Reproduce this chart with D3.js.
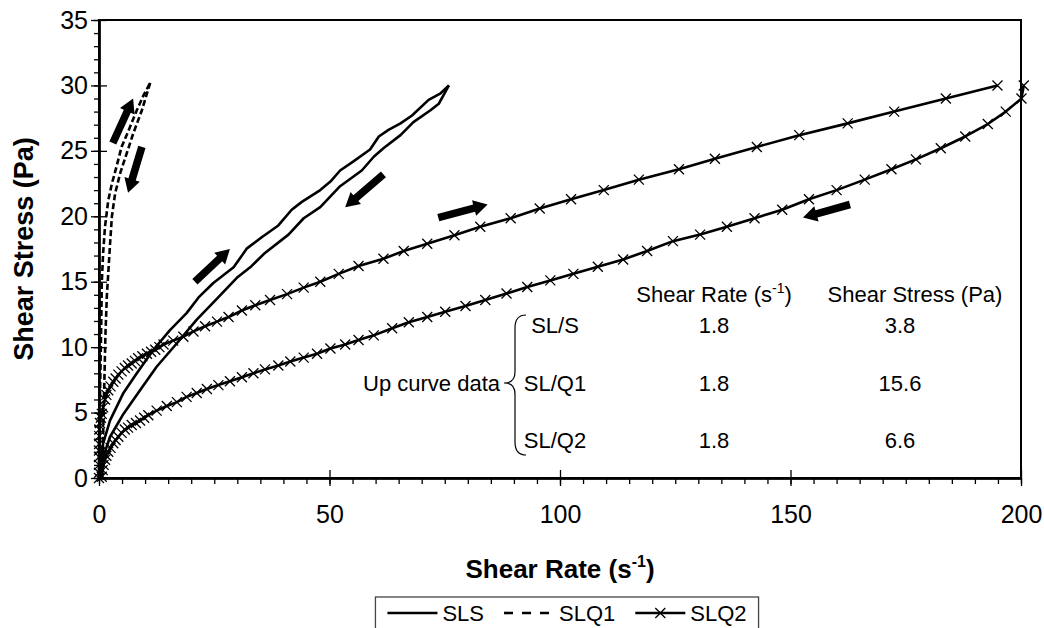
<!DOCTYPE html>
<html>
<head>
<meta charset="utf-8">
<script src="https://cdn.jsdelivr.net/npm/d3@7"></script>
<style>
body { margin: 0; background: #fff; }
svg { display: block; font-family: Arial, "Liberation Sans", sans-serif; }
</style>
</head>
<body>
<svg id="chart" width="1044" height="628"></svg>
<script>
// shear rate (1/s), shear stress (Pa)
var slsUp = [[0,0],[0.2,0.9],[0.9,2.65],[2.4,4.4],[5.3,6.5],[8.2,8.0],[11.8,9.8],[15.4,11.3],[19.0,12.6],[21.6,13.8],[24.8,14.9],[29.2,16.1],[32.1,17.55],[35.3,18.4],[38.9,19.3],[41.8,20.5],[44.0,21.1],[48.0,22.0],[50.2,22.65],[52.3,23.5],[55.2,24.2],[58.8,25.1],[60.7,26.1],[62.8,26.6],[65.4,27.1],[67.9,27.7],[71.5,28.9],[74.1,29.4],[75.9,30.0]];
var slsDown = [[75.9,30.0],[74.8,29.3],[73.7,28.6],[71.9,28.1],[68.2,27.2],[65.4,26.2],[61.7,25.2],[59.6,24.55],[57.0,23.5],[52.3,22.3],[48.0,20.7],[44.4,19.85],[41.1,18.6],[36.0,17.2],[32.8,16.1],[29.9,15.3],[25.6,13.7],[21.2,12.1],[16.9,10.3],[12.5,8.5],[8.9,6.7],[5.3,4.9],[2.4,3.15],[0.9,1.6],[0.2,0.35]];
var slq1Up = [[0,0],[0.1,3],[0.2,6],[0.35,9],[0.5,12],[0.6,14.9],[0.9,17.2],[1.3,19.2],[2.0,21.2],[2.8,22.5],[3.8,23.8],[4.9,25.3],[6.7,26.8],[8.2,28.1],[9.6,29.2],[11.1,30.2]];
var slq1Down = [[11.1,30.2],[9.3,28.1],[7.4,26.3],[6.0,24.8],[4.6,23.3],[3.5,21.75],[2.8,20.0],[2.4,17.9],[2.0,15.6],[1.7,13.9],[1.4,11],[1.2,8],[1.0,5],[0.8,2],[0.6,0]];
var slq2Up = [[0,0],[0,0.4],[0,1.0],[0,1.6],[0,2.1],[0.02,2.6],[0.05,3.2],[0.07,3.7],[0.2,4.2],[0.4,4.6],[0.6,4.9],[0.9,5.4],[1.3,6.0],[1.6,6.35],[2.0,6.7],[2.5,7.0],[3.1,7.35],[3.6,7.6],[4.2,7.9],[4.9,8.15],[5.6,8.4],[6.3,8.6],[7.1,8.75],[7.8,8.95],[8.5,9.15],[9.4,9.3],[10.4,9.5],[11.3,9.65],[12.2,9.8],[13.1,10.0],[14.0,10.2],[16.1,10.5],[18.3,10.8],[20.5,11.2],[23.0,11.6],[25.6,11.95],[28.1,12.3],[31.0,12.8],[33.9,13.2],[37.1,13.6],[40.8,14.05],[44.4,14.55],[48.0,15.0],[52.0,15.6],[56.3,16.2],[61.7,16.75],[66.1,17.35],[71.2,17.9],[77.1,18.55],[82.7,19.2],[89.3,19.85],[95.6,20.6],[102.4,21.3],[109.5,22.0],[117.1,22.8],[125.8,23.6],[133.6,24.4],[142.7,25.3],[151.9,26.2],[162.4,27.1],[172.5,28.0],[183.7,29.0],[194.9,30.0]];
var slq2Down = [[200.6,30.0],[200.1,29.0],[196.7,28.0],[192.8,27.05],[187.9,26.1],[182.6,25.2],[177.2,24.35],[171.9,23.6],[166.1,22.8],[160.0,22.0],[154.0,21.3],[148.2,20.5],[142.2,19.85],[136.2,19.2],[130.4,18.6],[124.5,18.1],[118.9,17.35],[113.7,16.7],[108.2,16.15],[102.9,15.6],[97.9,15.1],[92.9,14.6],[88.4,14.1],[83.8,13.6],[79.5,13.15],[75.1,12.7],[71.2,12.3],[67.2,11.9],[63.6,11.45],[59.6,10.9],[56.3,10.55],[53.4,10.2],[50.2,9.9],[47.3,9.5],[44.4,9.2],[41.5,8.9],[38.9,8.6],[36.0,8.3],[33.5,8.0],[31.0,7.7],[28.4,7.4],[25.9,7.1],[23.4,6.8],[21.2,6.5],[19.0,6.2],[16.9,5.8],[14.7,5.5],[12.5,5.15],[10.7,4.8],[9.8,4.6],[8.9,4.4],[8.0,4.2],[7.1,4.05],[6.3,3.85],[5.6,3.7],[4.9,3.45],[4.2,3.15],[3.6,2.9],[3.1,2.65],[2.5,2.3],[2.0,2.0],[1.6,1.7],[1.3,1.4],[1.0,1.0],[0.8,0.6],[0.6,0.1]];

// direction arrows [x1, y1, x2, y2] in data units
var arrows = [[3.0,25.6,7.4,29.0],[9.3,25.3,6.3,21.8],[20.8,15.0,28.4,17.5],[61.7,23.2,53.4,20.7],[73.6,19.9,84.3,20.9],[162.9,20.9,152.7,19.9]];

var xMajor = [0, 50, 100, 150, 200];
var yMajor = [0, 5, 10, 15, 20, 25, 30, 35];

var tableNames = ["SL/S", "SL/Q1", "SL/Q2"];
var tableRates = ["1.8", "1.8", "1.8"];
var tableStress = ["3.8", "15.6", "6.6"];

var legendNames = ["SLS", "SLQ1", "SLQ2"];

var svg = d3.select("#chart"),
	margin = {top: 20, right: 23, bottom: 150, left: 99},
	width = 1044 - margin.left - margin.right,
	height = 628 - margin.top - margin.bottom;

var x = d3.scaleLinear().domain([0, 200]).range([0, width]);
var y = d3.scaleLinear().domain([0, 35]).range([height, 0]);

var g = svg.append("g")
	.attr("transform", "translate(" + margin.left + "," + margin.top + ")");

// frame
g.append("rect")
	.attr("width", width)
	.attr("height", height)
	.attr("fill", "none")
	.attr("stroke", "#000")
	.attr("stroke-width", 2);

// minor ticks
g.append("g")
	.attr("class", "axis")
	.attr("transform", "translate(0," + height + ")")
	.call(d3.axisBottom(x).tickValues(d3.range(0, 201, 5)).tickSize(6).tickSizeOuter(0).tickFormat(""));
g.append("g")
	.attr("class", "axis")
	.call(d3.axisLeft(y).tickValues(d3.range(0, 36, 1)).tickSize(5).tickSizeOuter(0).tickFormat(""));

// major ticks crossing the axes
g.append("g")
	.attr("class", "axis major")
	.attr("transform", "translate(0," + height + ")")
	.call(d3.axisBottom(x).tickValues(xMajor).tickSize(8).tickSizeOuter(0).tickPadding(19));
g.append("g")
	.attr("class", "axis")
	.attr("transform", "translate(0," + height + ")")
	.call(d3.axisTop(x).tickValues(xMajor).tickSize(8).tickSizeOuter(0).tickFormat(""));
g.append("g")
	.attr("class", "axis major")
	.call(d3.axisLeft(y).tickValues(yMajor).tickSize(8).tickSizeOuter(0).tickPadding(3));
g.append("g")
	.attr("class", "axis")
	.call(d3.axisRight(y).tickValues(yMajor).tickSize(8).tickSizeOuter(0).tickFormat(""));

svg.selectAll(".axis .domain").attr("stroke-width", 2);
svg.selectAll(".axis .tick line").attr("stroke-width", 1.3);
svg.selectAll(".axis.major .tick text")
	.style("font-size", "25px")
	.style("font-family", "Arial, 'Liberation Sans', sans-serif")
	.attr("fill", "#000");

// axis titles
var xt = svg.append("text")
	.attr("x", margin.left + width / 2)
	.attr("y", 578)
	.attr("text-anchor", "middle")
	.style("font-size", "26px")
	.style("font-weight", "bold");
xt.append("tspan").text("Shear Rate (s");
xt.append("tspan").attr("dy", -11).style("font-size", "16px").text("-1");
xt.append("tspan").attr("dy", 11).text(")");

svg.append("text")
	.attr("transform", "translate(33," + (margin.top + height / 2) + ") rotate(-90)")
	.attr("text-anchor", "middle")
	.style("font-size", "27px")
	.style("font-weight", "bold")
	.text("Shear Stress (Pa)");

// curves
var line = d3.line()
	.x(function (d) { return x(d[0]); })
	.y(function (d) { return y(d[1]); });

[slsUp, slsDown].forEach(function (s) {
	g.append("path").attr("d", line(s)).attr("fill", "none")
		.attr("stroke", "#000").attr("stroke-width", 2.6).attr("stroke-linejoin", "round");
});
[slq1Up, slq1Down].forEach(function (s) {
	g.append("path").attr("d", line(s)).attr("fill", "none")
		.attr("stroke", "#000").attr("stroke-width", 2.6).attr("stroke-dasharray", "6,3");
});
[slq2Up, slq2Down].forEach(function (s) {
	g.append("path").attr("d", line(s)).attr("fill", "none")
		.attr("stroke", "#000").attr("stroke-width", 2.6).attr("stroke-linejoin", "round");
	g.selectAll(null)
		.data(s)
		.enter()
		.append("path")
		.attr("d", "M-5,-5L5,5M-5,5L5,-5")
		.attr("transform", function (d) { return "translate(" + x(d[0]) + "," + y(d[1]) + ")"; })
		.attr("stroke", "#000")
		.attr("stroke-width", 1.3);
});

// block arrows
function arrowPoints(a) {
	var x1 = x(a[0]), y1 = y(a[1]), x2 = x(a[2]), y2 = y(a[3]);
	var dx = x2 - x1, dy = y2 - y1, L = Math.sqrt(dx * dx + dy * dy);
	var ux = dx / L, uy = dy / L, nx = -uy, ny = ux;
	var hl = 14, sw = 3.8, hw = 8;
	var bx = x2 - ux * hl, by = y2 - uy * hl;
	return [
		[x1 + nx * sw, y1 + ny * sw], [bx + nx * sw, by + ny * sw], [bx + nx * hw, by + ny * hw],
		[x2, y2],
		[bx - nx * hw, by - ny * hw], [bx - nx * sw, by - ny * sw], [x1 - nx * sw, y1 - ny * sw]
	].map(function (p) { return p.join(","); }).join(" ");
}
g.selectAll(".arrow")
	.data(arrows)
	.enter()
	.append("polygon")
	.attr("class", "arrow")
	.attr("points", arrowPoints)
	.attr("fill", "#000");

// up-curve data table
var tb = svg.append("g").style("font-size", "22px");
var rateX = 714, stressX = 900, nameX = 555;
var hr = tb.append("text").attr("x", rateX).attr("y", 302).attr("text-anchor", "middle");
hr.append("tspan").text("Shear Rate (s");
hr.append("tspan").attr("dy", -9).style("font-size", "14px").text("-1");
hr.append("tspan").attr("dy", 9).text(")");
tb.append("text").attr("x", 915).attr("y", 302).attr("text-anchor", "middle").text("Shear Stress (Pa)");

var rowY = [333, 391, 448];
tableNames.forEach(function (n, i) {
	tb.append("text").attr("x", nameX).attr("y", rowY[i]).attr("text-anchor", "middle").text(n);
	tb.append("text").attr("x", rateX).attr("y", rowY[i]).attr("text-anchor", "middle").text(tableRates[i]);
	tb.append("text").attr("x", stressX).attr("y", rowY[i]).attr("text-anchor", "middle").text(tableStress[i]);
});
tb.append("text").attr("x", 500).attr("y", 391).attr("text-anchor", "end").text("Up curve data");
tb.append("path")
	.attr("d", "M526,315 Q515,315 515,328 L515,372 Q515,383 504,383 Q515,383 515,394 L515,442 Q515,455 526,455")
	.attr("fill", "none")
	.attr("stroke", "#000")
	.attr("stroke-width", 1.2);

// legend
var lg = svg.append("g").style("font-size", "22px");
var sampleLen = 50, itemGap = 20, lx = 0;
var items = [];
legendNames.forEach(function (n, i) {
	var it = lg.append("g");
	if (i === 2) {
		it.append("line").attr("x1", 0).attr("x2", sampleLen).attr("y1", 0).attr("y2", 0)
			.attr("stroke", "#000").attr("stroke-width", 2.6);
		it.append("path").attr("d", "M-5,-5L5,5M-5,5L5,-5").attr("transform", "translate(" + sampleLen / 2 + ",0)")
			.attr("stroke", "#000").attr("stroke-width", 1.3);
	} else {
		it.append("line").attr("x1", 0).attr("x2", sampleLen).attr("y1", 0).attr("y2", 0)
			.attr("stroke", "#000").attr("stroke-width", 2.6)
			.attr("stroke-dasharray", i === 1 ? "9,9" : null);
	}
	var t = it.append("text").attr("x", sampleLen + 5).attr("y", 8).text(n);
	var w = sampleLen + 5 + t.node().getComputedTextLength();
	items.push({g: it, w: w});
});
var total = d3.sum(items, function (d) { return d.w; }) + itemGap * (items.length - 1);
var boxW = total + 24, boxX = margin.left + width / 2 - boxW / 2 + 7, boxY = 597;
lg.insert("rect", ":first-child")
	.attr("x", boxX).attr("y", boxY).attr("width", boxW).attr("height", 50)
	.attr("fill", "#fff").attr("stroke", "#444").attr("stroke-width", 1.3);
lx = boxX + 12;
items.forEach(function (d) {
	d.g.attr("transform", "translate(" + lx + "," + (boxY + 16) + ")");
	lx += d.w + itemGap;
});
</script>
</body>
</html>
